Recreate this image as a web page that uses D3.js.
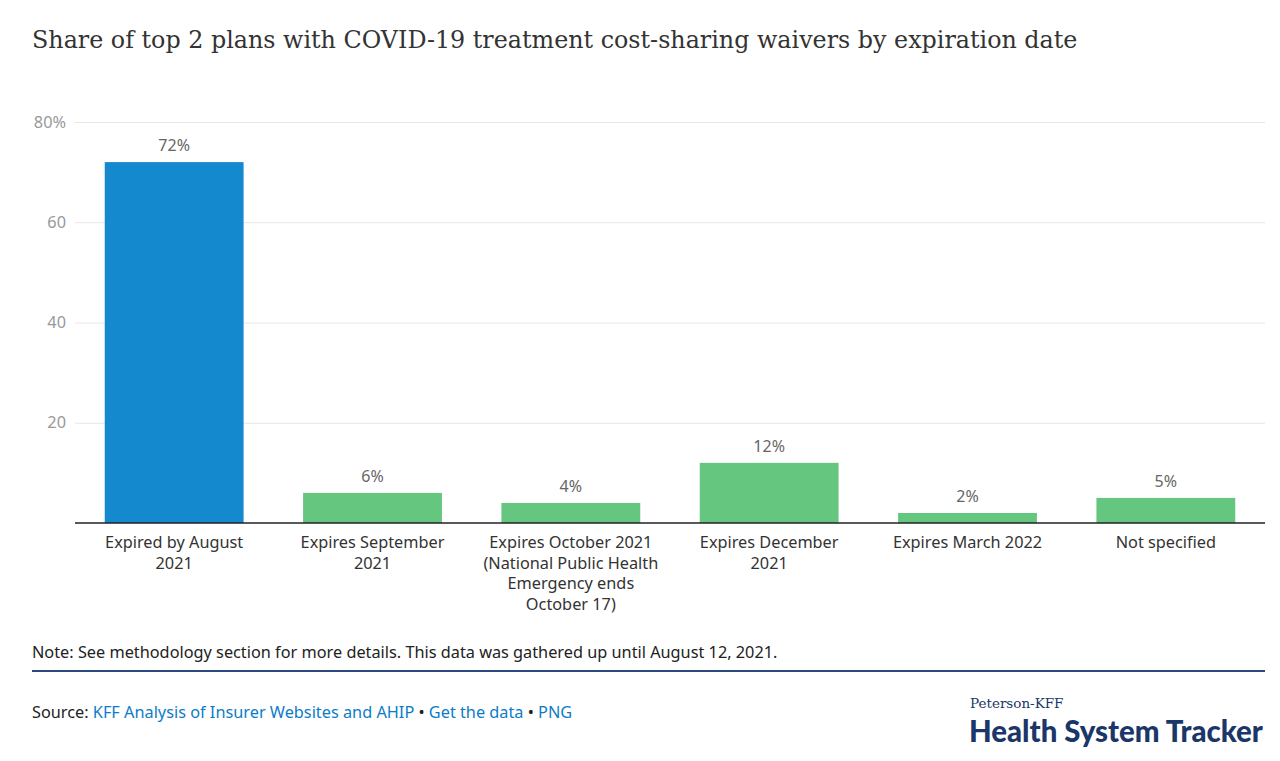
<!DOCTYPE html>
<html lang="en">
<head>
<meta charset="UTF-8">
<title>COVID-19 waivers</title>
<script src="https://cdn.jsdelivr.net/npm/d3@7"></script>
<style>
  body { margin: 0; background: #fff; }
  svg text { font-family: "Noto Sans", Lato, sans-serif; }
  .title { font-family: "DejaVu Serif", serif !important; font-size: 23.8px; fill: #333; }
  .grid .tick line { stroke: #e6e6e6; }
  .grid .domain { display: none; }
  .yaxis text { fill: #999; font-size: 16.3px; }
  .xlab { fill: #333; font-size: 16.3px; }
  .val { fill: #666; font-size: 16px; }
</style>
</head>
<body>
<div id="chart"></div>
<script>
var categories = [
  ["Expired by August", "2021"],
  ["Expires September", "2021"],
  ["Expires October 2021", "(National Public Health", "Emergency ends", "October 17)"],
  ["Expires December", "2021"],
  ["Expires March 2022"],
  ["Not specified"]
];
var values = [72, 6, 4, 12, 2, 5];
var barColors = ["#1589cd", "#65c680", "#65c680", "#65c680", "#65c680", "#65c680"];
var yTicks = [0, 20, 40, 60, 80];

const width = 1280, height = 761;
const margin = {top: 122, left: 75, right: 15, bottom: 238};
const gw = width - margin.left - margin.right;
const gh = height - margin.top - margin.bottom;

const svg = d3.select("#chart").append("svg")
  .attr("width", width).attr("height", height);

svg.append("text").attr("class", "title")
  .attr("x", 32).attr("y", 48)
  .text("Share of top 2 plans with COVID-19 treatment cost-sharing waivers by expiration date");

const g = svg.append("g").attr("transform", `translate(${margin.left},${margin.top})`);

const x = d3.scaleBand().domain(d3.range(values.length)).range([0, gw]).paddingInner(0.3).paddingOuter(0.15);
const y = d3.scaleLinear().domain([0, 80]).range([gh, 0]);

g.append("g").attr("class", "grid")
  .call(d3.axisLeft(y).tickValues(yTicks.slice(1)).tickSize(-gw).tickFormat(""));

g.append("g").attr("class", "yaxis")
  .call(d3.axisLeft(y).tickValues(yTicks.slice(1)).tickSize(0).tickPadding(9)
    .tickFormat(d => d === 80 ? d + "%" : d))
  .call(a => a.select(".domain").remove());

g.selectAll("rect.bar").data(values).enter().append("rect")
  .attr("class", "bar")
  .attr("x", (d, i) => x(i))
  .attr("y", d => y(d))
  .attr("width", x.bandwidth())
  .attr("height", d => gh - y(d))
  .attr("fill", (d, i) => barColors[i]);

g.selectAll("text.val").data(values).enter().append("text")
  .attr("class", "val")
  .attr("x", (d, i) => x(i) + x.bandwidth() / 2)
  .attr("y", d => y(d) - 11)
  .attr("text-anchor", "middle")
  .text(d => d + "%");

g.append("line").attr("x1", 0).attr("x2", gw).attr("y1", gh).attr("y2", gh)
  .attr("stroke", "#222").attr("stroke-width", 1.5);

const xl = g.selectAll("text.xlab").data(categories).enter().append("text")
  .attr("class", "xlab")
  .attr("text-anchor", "middle")
  .attr("transform", (d, i) => `translate(${x(i) + x.bandwidth() / 2},${gh + 25})`);
xl.selectAll("tspan").data(d => d).enter().append("tspan")
  .attr("x", 0).attr("dy", (d, i) => i === 0 ? 0 : 20.5).text(d => d);

svg.append("text").attr("x", 32).attr("y", 658)
  .style("font-size", "16.3px").attr("fill", "#222")
  .text("Note: See methodology section for more details. This data was gathered up until August 12, 2021.");

svg.append("line").attr("x1", 32).attr("x2", 1265).attr("y1", 671).attr("y2", 671)
  .attr("stroke", "#2b4a7e").attr("stroke-width", 2);

const src = svg.append("text").attr("x", 32).attr("y", 718).style("font-size", "16.3px").attr("fill", "#222");
src.append("tspan").text("Source: ");
src.append("tspan").attr("fill", "#0c7cc9").text("KFF Analysis of Insurer Websites and AHIP");
src.append("tspan").text(" \u2022 ");
src.append("tspan").attr("fill", "#0c7cc9").text("Get the data");
src.append("tspan").text(" \u2022 ");
src.append("tspan").attr("fill", "#0c7cc9").text("PNG");

svg.append("text").attr("x", 970).attr("y", 708)
  .style("font-family", "'DejaVu Serif', serif").style("font-size", "13.5px").attr("fill", "#1b3668")
  .text("Peterson-KFF");
svg.append("text").attr("x", 969).attr("y", 742)
  .style("font-family", "Lato, sans-serif").style("font-weight", 900).style("font-size", "29.4px").attr("fill", "#1b3668")
  .text("Health System Tracker");
</script>
</body>
</html>
